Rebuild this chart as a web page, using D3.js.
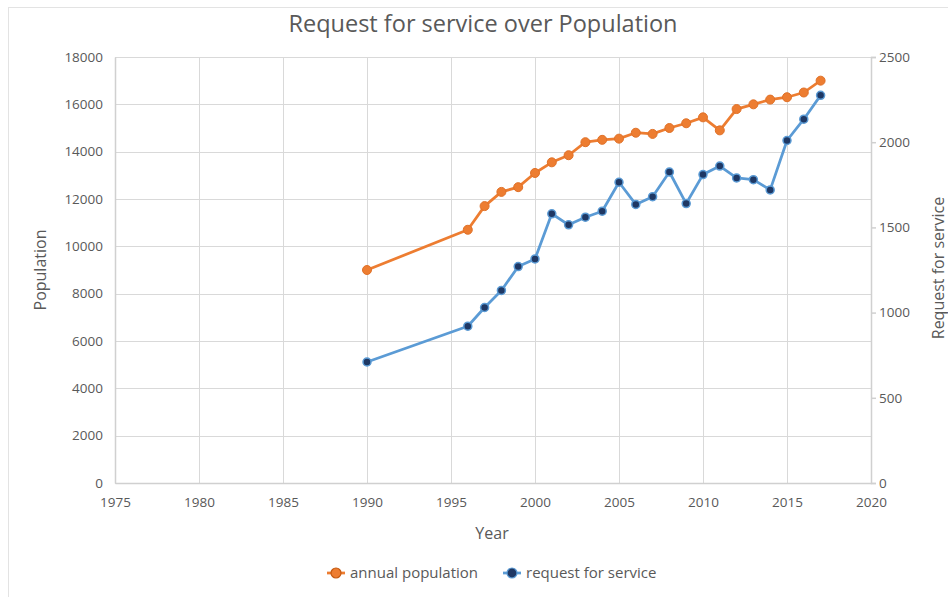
<!DOCTYPE html>
<html>
<head>
<meta charset="utf-8">
<script src="https://cdn.jsdelivr.net/npm/d3@7"></script>
<style>
  body { margin: 0; background: #fff; }
  text { font-family: "Open Sans", sans-serif; fill: #595959; }
</style>
</head>
<body>
<svg id="chart" width="948" height="597"></svg>
<script>
// data
var years = [1990, 1996, 1997, 1998, 1999, 2000, 2001, 2002, 2003, 2004, 2005, 2006, 2007, 2008, 2009, 2010, 2011, 2012, 2013, 2014, 2015, 2016, 2017];
var population = [9000, 10700, 11700, 12300, 12500, 13100, 13550, 13850, 14400, 14500, 14550, 14800, 14750, 15000, 15200, 15450, 14900, 15800, 16000, 16200, 16300, 16500, 17000];
var requests = [710, 920, 1030, 1130, 1270, 1315, 1580, 1515, 1560, 1595, 1765, 1635, 1680, 1825, 1640, 1810, 1860, 1790, 1780, 1720, 2010, 2135, 2275];
var xTicks = [1975, 1980, 1985, 1990, 1995, 2000, 2005, 2010, 2015, 2020];
var leftTicks = [0, 2000, 4000, 6000, 8000, 10000, 12000, 14000, 16000, 18000];
var rightTicks = [0, 500, 1000, 1500, 2000, 2500];

(function() {
    var svg = d3.select("#chart");

    //plot area
    var plotLeft = 115, plotRight = 871, plotTop = 57, plotBottom = 483;
    var gridColor = "#d9d9d9";

    var x = d3.scaleLinear().domain([1975, 2020]).range([plotLeft, plotRight]);
    var yL = d3.scaleLinear().domain([0, 18000]).range([plotBottom, plotTop]);
    var yR = d3.scaleLinear().domain([0, 2500]).range([plotBottom, plotTop]);

    //outer chart border
    svg.append("rect")
        .attr("x", 8.5).attr("y", 7.5)
        .attr("width", 1000).attr("height", 1000)
        .attr("fill", "none")
        .attr("stroke", "#e3e3e3");

    //title
    svg.append("text")
        .attr("x", 483).attr("y", 32)
        .attr("text-anchor", "middle")
        .style("font-size", "23.5px")
        .text("Request for service over Population");

    //gridlines
    svg.append("g").selectAll("line")
        .data(leftTicks)
        .enter().append("line")
            .attr("x1", plotLeft).attr("x2", plotRight)
            .attr("y1", function(d) { return Math.round(yL(d)) + 0.5; })
            .attr("y2", function(d) { return Math.round(yL(d)) + 0.5; })
            .attr("stroke", gridColor);

    svg.append("g").selectAll("line")
        .data(xTicks)
        .enter().append("line")
            .attr("x1", function(d) { return Math.round(x(d)) + 0.5; })
            .attr("x2", function(d) { return Math.round(x(d)) + 0.5; })
            .attr("y1", plotTop).attr("y2", plotBottom)
            .attr("stroke", gridColor);

    //axes
    var xAxis = d3.axisBottom(x).tickValues(xTicks).tickFormat(d3.format("d")).tickSize(0).tickPadding(14);
    var leftAxis = d3.axisLeft(yL).tickValues(leftTicks).tickFormat(d3.format("d")).tickSize(0).tickPadding(12);
    var rightAxis = d3.axisRight(yR).tickValues(rightTicks).tickFormat(d3.format("d")).tickSize(5).tickPadding(3);

    function styleAxis(g) {
        g.select(".domain").attr("stroke", "#d0d0d0").attr("stroke-width", 1.5);
        g.selectAll(".tick line").attr("stroke", "#d0d0d0").attr("stroke-width", 1.5);
        g.selectAll("text").style("font-size", "13.5px").attr("fill", "#595959").style("font-family", "'Open Sans', sans-serif");
    }

    svg.append("g").attr("transform", "translate(0," + plotBottom + ")").call(xAxis).call(styleAxis);
    svg.append("g").attr("transform", "translate(" + plotLeft + ",0)").call(leftAxis).call(styleAxis);
    svg.append("g").attr("transform", "translate(" + plotRight + ",0)").call(rightAxis).call(styleAxis);

    //axis titles
    svg.append("text")
        .attr("x", 492).attr("y", 539)
        .attr("text-anchor", "middle")
        .style("font-size", "16px")
        .text("Year");

    svg.append("text")
        .attr("transform", "translate(46,270) rotate(-90)")
        .attr("text-anchor", "middle")
        .style("font-size", "16px")
        .text("Population");

    svg.append("text")
        .attr("transform", "translate(944,268) rotate(-90)")
        .attr("text-anchor", "middle")
        .style("font-size", "16px")
        .text("Request for service");

    //series
    var orange = "#ED7D31", blue = "#5B9BD5", navy = "#1F3864";

    var popData = years.map(function(yr, i) { return { year: yr, value: population[i] }; });
    var reqData = years.map(function(yr, i) { return { year: yr, value: requests[i] }; });

    var popLine = d3.line().x(function(d) { return x(d.year); }).y(function(d) { return yL(d.value); });
    var reqLine = d3.line().x(function(d) { return x(d.year); }).y(function(d) { return yR(d.value); });

    svg.append("path").datum(popData)
        .attr("d", popLine)
        .attr("fill", "none").attr("stroke", orange).attr("stroke-width", 2.75)
        .attr("stroke-linejoin", "round");

    svg.append("g").selectAll("circle")
        .data(popData)
        .enter().append("circle")
            .attr("cx", function(d) { return x(d.year); })
            .attr("cy", function(d) { return yL(d.value); })
            .attr("r", 4.5)
            .attr("fill", orange)
            .attr("stroke", "#E07128").attr("stroke-width", 1);

    svg.append("path").datum(reqData)
        .attr("d", reqLine)
        .attr("fill", "none").attr("stroke", blue).attr("stroke-width", 2.75)
        .attr("stroke-linejoin", "round");

    svg.append("g").selectAll("circle")
        .data(reqData)
        .enter().append("circle")
            .attr("cx", function(d) { return x(d.year); })
            .attr("cy", function(d) { return yR(d.value); })
            .attr("r", 4)
            .attr("fill", navy)
            .attr("stroke", blue).attr("stroke-width", 1.5);

    //legend
    var legendItems = [
        { label: "annual population", x: 336, line: orange, fill: orange, stroke: "#C55A11" },
        { label: "request for service", x: 512, line: blue, fill: navy, stroke: blue }
    ];

    var legend = svg.append("g").selectAll("g")
        .data(legendItems)
        .enter().append("g")
            .attr("transform", function(d) { return "translate(" + d.x + ",573)"; });

    legend.append("line")
        .attr("x1", -9).attr("x2", 9)
        .attr("stroke", function(d) { return d.line; })
        .attr("stroke-width", 2.75);

    legend.append("circle")
        .attr("r", 5)
        .attr("fill", function(d) { return d.fill; })
        .attr("stroke", function(d) { return d.stroke; })
        .attr("stroke-width", 1.2);

    legend.append("text")
        .attr("x", 14).attr("y", 5)
        .style("font-size", "15px")
        .text(function(d) { return d.label; });
})();
</script>
</body>
</html>
